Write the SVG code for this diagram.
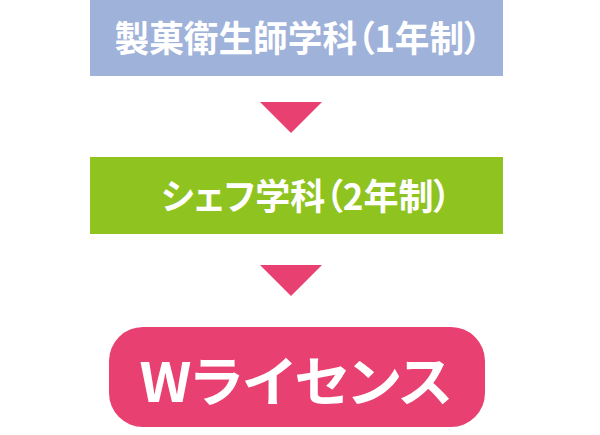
<svg xmlns="http://www.w3.org/2000/svg" width="600" height="435" viewBox="0 0 600 435">
<style>
.t{fill:#fff;font-family:"Noto Sans CJK JP","Noto Sans",sans-serif;font-weight:bold;text-anchor:middle;font-feature-settings:"palt"}
.arr{fill:#e84070}
</style>
<rect width="600" height="435" fill="#fff"/>
<g id="node1">
<rect x="90" y="0" width="413" height="76" fill="#9fb2da"/>
<text class="t" x="298" y="52" font-size="36" textLength="367" lengthAdjust="spacingAndGlyphs">製菓衛生師学科（1年制）</text>
</g>
<g id="node2">
<rect x="90" y="157" width="413" height="77" fill="#8fc31f"/>
<text class="t" x="306" y="210" font-size="36" textLength="290" lengthAdjust="spacingAndGlyphs">シェフ学科（2年制）</text>
</g>
<g id="node3">
<rect x="109" y="327" width="376" height="100" rx="34" fill="#e84070"/>
<text class="t" x="296" y="402" font-size="54" textLength="313" lengthAdjust="spacingAndGlyphs">Wライセンス</text>
</g>
<g id="connectors">
<polygon class="arr" points="260,102 322,102 291,133"/>
<polygon class="arr" points="260,265 322,265 291,296"/>
</g>
</svg>
